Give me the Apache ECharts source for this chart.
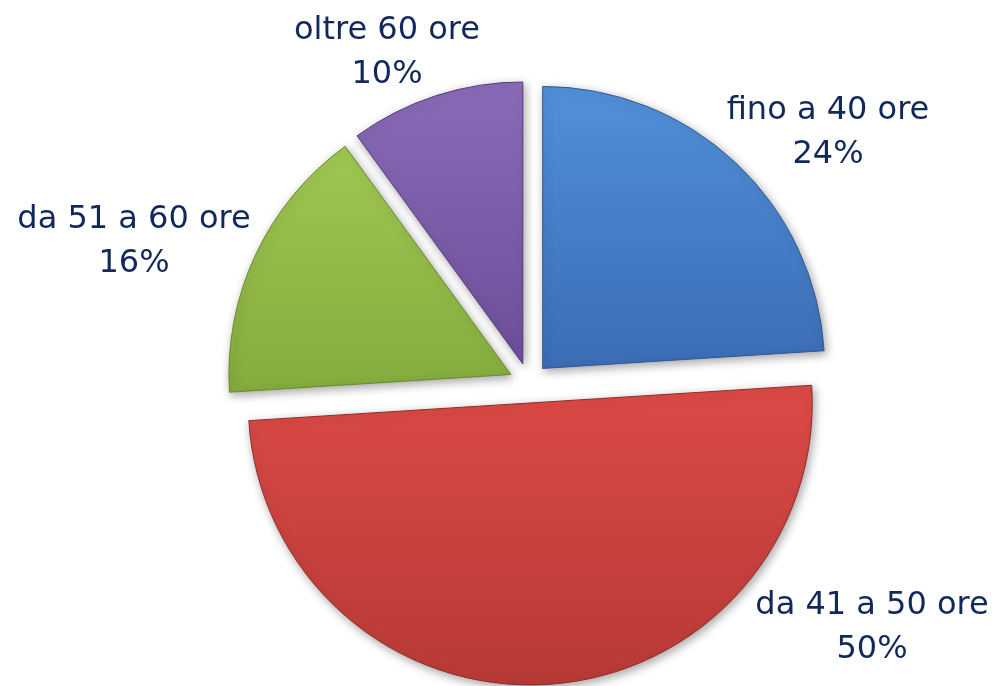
<!DOCTYPE html>
<html lang="it">

<head>
  <meta charset="UTF-8">
  <meta name="viewport" content="width=device-width, initial-scale=1.0">
  <script src="https://cdn.jsdelivr.net/npm/echarts@6.0.0/dist/echarts.min.js"></script>
  <style>
    body,
    html {
      margin: 0;
      padding: 0;
      width: 100%;
      height: 100%;
      background: #ffffff;
      overflow: hidden;
    }

    #main {
      width: 996px;
      height: 686px;
    }
  </style>
</head>

<body>
  <div id="main"></div>
  <script type="text/javascript">
    // ore settimanali
    var categories = ['fino a 40 ore', 'da 41 a 50 ore', 'da 51 a 60 ore', 'oltre 60 ore'];
    var values = [24, 50, 16, 10];

    var colorsTop = ['#5190da', '#dc4a46', '#9fc752', '#8a6bb9'];
    var colorsBottom = ['#3b6db5', '#b73a36', '#84ab3d', '#6c4e99'];
    var edgeColors = ['#2f5a94', '#922c29', '#6a8a30', '#553d7c'];

    // where each label block sits (centre of the two lines)
    var labelPos = [[828, 133], [872, 628], [134, 242], [387, 53]];

    var myChart = echarts.init(document.getElementById('main'));

    var sliceData = categories.map(function (name, i) {
      return {
        name: name,
        value: values[i],
        selected: true,
        itemStyle: {
          color: new echarts.graphic.LinearGradient(0, 0, 0, 1, [
            { offset: 0, color: colorsTop[i] },
            { offset: 1, color: colorsBottom[i] }
          ]),
          borderColor: edgeColors[i],
          borderWidth: 1
        }
      };
    });

    var labelData = categories.map(function (name, i) {
      return { name: name, value: values[i] };
    });

    var option = {
      backgroundColor: '#ffffff',
      animation: false,
      series: [{
        // exploded slices
        type: 'pie',
        center: [529, 383],
        radius: [0, 282],
        startAngle: 90,
        clockwise: true,
        selectedMode: 'multiple',
        selectedOffset: 20,
        data: sliceData,
        itemStyle: {
          shadowBlur: 10,
          shadowColor: 'rgba(0, 0, 0, 0.35)',
          shadowOffsetX: 2,
          shadowOffsetY: 3
        },
        label: { show: false },
        labelLine: { show: false },
        emphasis: { disabled: true }
      }, {
        // invisible copy that only carries the labels
        type: 'pie',
        center: [529, 383],
        radius: [0, 282],
        startAngle: 90,
        silent: true,
        selectedMode: false,
        data: labelData,
        itemStyle: { color: 'rgba(0,0,0,0)', borderWidth: 0 },
        label: {
          show: true,
          position: 'inside',
          overflow: 'none',
          formatter: function (p) {
            return p.name + '\n' + p.value + '%';
          },
          color: '#11285c',
          fontFamily: 'DejaVu Sans',
          fontSize: 32,
          lineHeight: 44,
          align: 'center'
        },
        labelLine: { show: false },
        labelLayout: function (params) {
          var p = labelPos[params.dataIndex];
          return {
            x: p[0],
            y: p[1],
            align: 'center',
            verticalAlign: 'middle'
          };
        },
        emphasis: { disabled: true }
      }]
    };

    myChart.setOption(option);
  </script>
</body>

</html>
